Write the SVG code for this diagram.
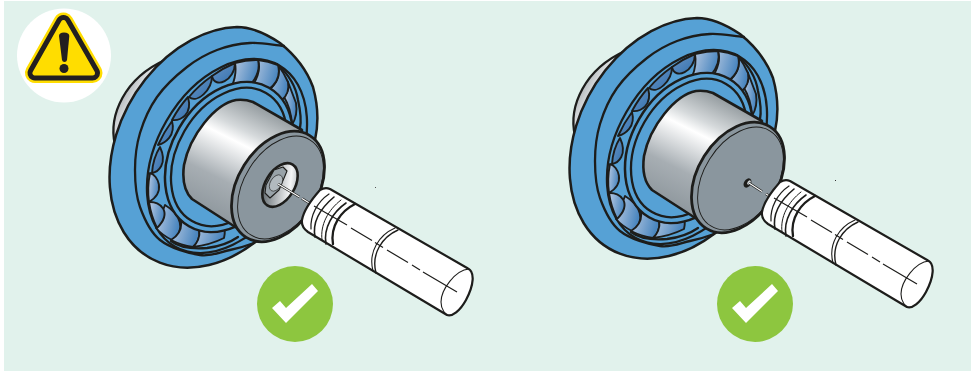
<svg xmlns="http://www.w3.org/2000/svg" width="976" height="374" viewBox="0 0 976 374">
<style>
.k{fill:none;stroke:#1d1d1b;stroke-width:2.3;stroke-linecap:round;stroke-linejoin:round}
.t{fill:none;stroke:#1d1d1b;stroke-width:1.1;stroke-linecap:round}
.b{fill:#56a1d5;stroke:#1d1d1b;stroke-width:2.5}
.r{stroke:#1d1d1b;stroke-width:1.9;stroke-linejoin:round;fill:url(#rl)}
.d{stroke:#1d1d1b;stroke-width:1.9;stroke-linejoin:round;fill:url(#rd)}
.dash{fill:none;stroke:#1d1d1b;stroke-width:1.2}
.dw{fill:none;stroke:#1d1d1b;stroke-width:2.6}
.dc{fill:none;stroke:#fff;stroke-width:1.1}
</style>
<defs>
<linearGradient id="rl" x1="0" y1="0" x2="1" y2="0.3"><stop offset="0" stop-color="#bccce3"/><stop offset="1" stop-color="#4a86bf"/></linearGradient>
<linearGradient id="rd" x1="0" y1="0" x2="1" y2="1"><stop offset="0" stop-color="#6b95c6"/><stop offset="1" stop-color="#3472ae"/></linearGradient>
<linearGradient id="cyl" gradientUnits="userSpaceOnUse" x1="210" y1="215" x2="265" y2="105"><stop offset="0" stop-color="#8e979d"/><stop offset=".3" stop-color="#a7aeb3"/><stop offset=".63" stop-color="#fff"/><stop offset=".74" stop-color="#d5d9db"/><stop offset="1" stop-color="#8d9599"/></linearGradient>
<linearGradient id="hub" gradientUnits="userSpaceOnUse" x1="115" y1="85" x2="165" y2="112"><stop offset="0" stop-color="#8d959a"/><stop offset=".55" stop-color="#f7f8f8"/><stop offset="1" stop-color="#c8ccce"/></linearGradient>
<linearGradient id="bore" gradientUnits="userSpaceOnUse" x1="274" y1="168" x2="292" y2="204"><stop offset="0" stop-color="#5f686d"/><stop offset=".7" stop-color="#f4f5f6"/><stop offset="1" stop-color="#9aa3a8"/></linearGradient>
<g id="bearing">
<path d="M115,145C108,115 125,78 165,60L200,80L150,160Z" fill="url(#hub)" stroke="#1d1d1b" stroke-width="2.300"/>
<path class="b" stroke-linejoin="round" d="M237,27A127.700,95 -60 1 0 254,243L290,220L315,140C319,122 318,105 313,87C306,68 295,55 280,43C265,33 250,27 237,27Z"/>
<path class="k" d="M284,46C272.700,45 261.200,42.300 250,43C238.800,43.700 227.500,46 217,50C206.500,54 197,59.200 187,67C177,74.800 164.800,86 157,97C149.200,108 143.700,120.800 140,133C136.300,145.200 135,157.700 135,170C135,182.300 135.800,195.300 140,207C144.200,218.700 150,232 160,240C170,248 188.300,253.300 200,255C211.700,256.700 220.500,252 230,250C239.500,248 248,245.300 254,243"/>
<ellipse class="k" cx="227" cy="156" rx="104.500" ry="70" transform="rotate(-60 227 156)"/>
<path class="r" d="M284,97Q290,90 288,82L296,103Q298,115 292,125Q291,108 284,97Z"/>
<path class="r" d="M278,65Q284,73 288,82Q290,93 282,100L267,92Q282,80 278,65Z"/>
<path class="r" d="M258,60Q268,61 278,65Q282,80 268,90L251,88Q262,72 258,60Z"/>
<path class="r" d="M235,63Q247,60 258,60Q261,72 251,84L232,86Q237,74 235,63Z"/>
<path class="d" d="M212,76Q223,68 235,63C235,80 215,90 212,76Z"/>
<path class="d" d="M189,97Q199,85 212,76C212,90 197,104 189,97Z"/>
<path class="d" d="M172,120Q179,107 188,97C193,115 180,121 172,120Z"/>
<path class="d" d="M158,145Q164,132 172,121C176,136 165,143 158,145Z"/>
<path class="d" d="M152,173Q153,158 160,147C168,164 158,172 152,173Z"/>
<path class="r" d="M150,173Q147,188 149,202C166,192 158,175 150,173Z"/>
<path class="r" d="M172,240Q162,235 156,228L165,205C180,214 187,230 172,240Z"/>
<path class="r" d="M149,202Q151,216 157,228C173,212 160,201 149,202Z"/>
<path class="r" d="M193,247Q181,245 171,240C187,230 180,214 178,215L195,222C206,236 193,247 193,247Z"/>
<path class="r" d="M193,247Q210,245 224,238Q226,230 223,222L195,222C206,236 193,247 193,247Z"/>
<path class="k" d="M277,64Q295,80 298,100Q302,118 300,128"/>
<path class="k" d="M171,241Q183,250 207,248Q225,246 238,237"/>
<ellipse class="b" cx="229" cy="157" rx="80" ry="57.700" transform="rotate(-60 229 157)"/>
<ellipse class="k" cx="229" cy="157" rx="74" ry="51.600" transform="rotate(-60 229 157)"/>
<path d="M302,130L253,102Q245,99 236,100C215,104 190,135 184,165C182,180 185,192 192,199L240,230Z" fill="url(#cyl)" stroke="#1d1d1b" stroke-width="2.600" stroke-linejoin="round"/>
<ellipse cx="278" cy="186.500" rx="60" ry="40" transform="rotate(-58 278 186.500)" fill="#8a969e" stroke="#1d1d1b" stroke-width="2.800"/>
<ellipse cx="280.500" cy="187.500" rx="56" ry="36.500" transform="rotate(-58 280.500 187.500)" fill="none" stroke="#1d1d1b" stroke-width=".9"/>
</g>
<g id="pin">
<path d="M330,189L468,268.500C475,272 474,285 466,300C460,311 452,317 447,315L308,232Q301,227 302,220Q304,208 320,190Q325,187 330,189Z" fill="#fff" stroke="#1d1d1b" stroke-width="2.200" stroke-linejoin="round"/>
<path class="t" d="M469,269C455,270 441,290 441,302C441,310 446,315 448,315"/>
<path class="k" style="stroke-width:1.2" d="M329,194c-12,8 -19,22 -18,35"/>
<path class="k" style="stroke-width:1.6" d="M334,197c-12,10 -22,24 -19,40"/>
<path class="k" style="stroke-width:1" d="M341,200c-13,10 -21,25 -19,40"/>
<path class="k" style="stroke-width:1.6" d="M346,203c-13,9 -23,25 -20,41"/>
<path class="k" d="M355,204c-14,7 -25,22 -22,40"/>
<path class="k" style="stroke-width:1.4" d="M398,230c-16,7 -27,24 -22,43"/>
<path class="t" d="M395,228c-16,7 -27,24 -22,43"/>
<path class="dash" d="M314,206L347,225M351,228L372,240.500M375,242.500L383,247.500M387,250L408,262.500M412,265L420,270M423,272L457,292"/>
</g>
<g id="check">
<circle cx="295" cy="304" r="38" fill="#8dc63f"/>
<path d="M272,308L280,301L286,308L312,284L318,291L286,323Z" fill="#fff"/>
</g>
</defs>
<rect x="4" y="1" width="967" height="370" fill="#e1f2ec"/>
<g id="warning">
<circle cx="64" cy="55.500" r="47" fill="#fff"/>
<path d="M63.500,22.500L35,73H92.500Z" fill="#ffdd00" stroke="#ffdd00" stroke-width="20" stroke-linejoin="round"/>
<path d="M63.500,22.500L35,73H92.500Z" fill="#231f20" stroke="#231f20" stroke-width="15" stroke-linejoin="round"/>
<path d="M63.500,22.500L35,73H92.500Z" fill="#ffdd00" stroke="#ffdd00" stroke-width="5" stroke-linejoin="round"/>
<path d="M59,36Q59,32.500 64,32.500Q69.300,32.500 69.300,36L67,60Q66.500,62 64.500,62Q62.500,62 62,60Z" fill="#231f20"/>
<circle cx="64" cy="68.500" r="4.500" fill="#231f20"/>
</g>
<g id="left-assembly">
<use href="#bearing"/>
<ellipse cx="280" cy="185" rx="24" ry="14.500" transform="rotate(-58 280 185)" fill="url(#bore)" stroke="#1d1d1b" stroke-width="2.600"/>
<path d="M266,185L274,170L283,167L287,171L279,190L270,198L265,193Z" fill="#98a2a8" stroke="#1d1d1b" stroke-width="1.100" stroke-linejoin="round"/>
<ellipse cx="276" cy="183" rx="9" ry="5.500" transform="rotate(-58 276 183)" fill="#b2babf" stroke="#1d1d1b" stroke-width=".6"/>
<path class="dw" d="M278,184L299.500,197M302,198.500L310,203.500"/><path class="dc" d="M278,184L299.500,197M302,198.500L310,203.500"/>
<use href="#pin"/>
<use href="#check"/>
<rect x="375" y="187" width="1" height="1" fill="#555"/>
</g>
<g id="right-assembly">
<use href="#bearing" transform="translate(460 -9)"/>
<ellipse cx="747.500" cy="183" rx="5" ry="3.500" transform="rotate(-58 747.500 183)" fill="#1d1d1b"/>
<ellipse cx="749" cy="182.500" rx="2.500" ry="1.500" transform="rotate(-58 749 182.500)" fill="#cfd4d7"/>
<path class="dw" d="M749,183L762,191.500M766,194L771,197"/><path class="dc" d="M749,183L762,191.500M766,194L771,197"/>
<use href="#pin" transform="translate(460 -8)"/>
<use href="#check" transform="translate(460 0)"/>
<rect x="835" y="180" width="1" height="1" fill="#333"/>
</g>
</svg>
